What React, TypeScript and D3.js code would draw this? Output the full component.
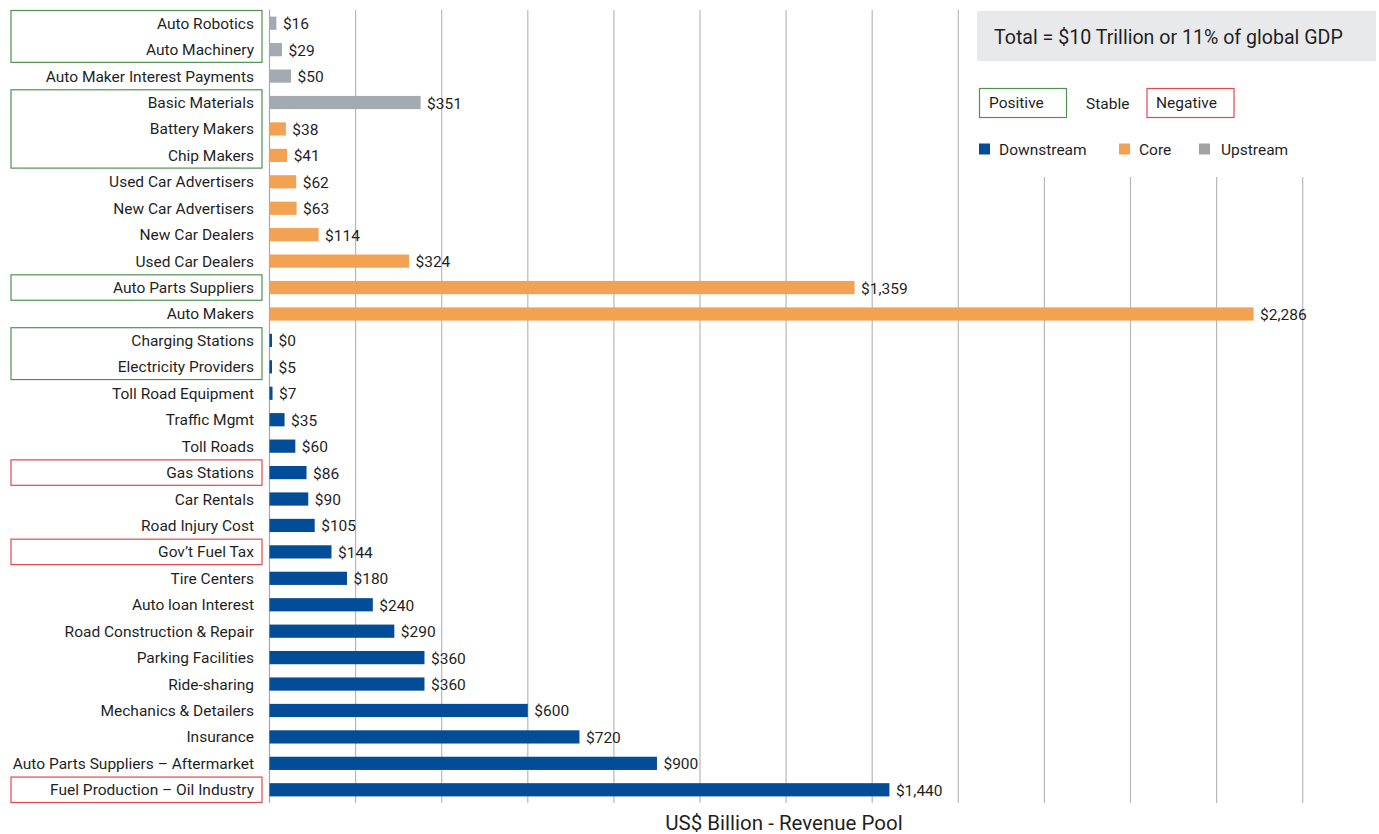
import React from "react";
import * as d3 from "d3";

const categories: string[] = [
  "Auto Robotics",
  "Auto Machinery",
  "Auto Maker Interest Payments",
  "Basic Materials",
  "Battery Makers",
  "Chip Makers",
  "Used Car Advertisers",
  "New Car Advertisers",
  "New Car Dealers",
  "Used Car Dealers",
  "Auto Parts Suppliers",
  "Auto Makers",
  "Charging Stations",
  "Electricity Providers",
  "Toll Road Equipment",
  "Traffic Mgmt",
  "Toll Roads",
  "Gas Stations",
  "Car Rentals",
  "Road Injury Cost",
  "Gov’t Fuel Tax",
  "Tire Centers",
  "Auto loan Interest",
  "Road Construction & Repair",
  "Parking Facilities",
  "Ride-sharing",
  "Mechanics & Detailers",
  "Insurance",
  "Auto Parts Suppliers – Aftermarket",
  "Fuel Production – Oil Industry",
];

const values: number[] = [
  16, 29, 50, 351, 38, 41, 62, 63, 114, 324, 1359, 2286, 0, 5, 7, 35, 60, 86, 90,
  105, 144, 180, 240, 290, 360, 360, 600, 720, 900, 1440,
];

const segments: string[] = [
  "Upstream", "Upstream", "Upstream", "Upstream",
  "Core", "Core", "Core", "Core", "Core", "Core", "Core", "Core",
  "Downstream", "Downstream", "Downstream", "Downstream", "Downstream", "Downstream",
  "Downstream", "Downstream", "Downstream", "Downstream", "Downstream", "Downstream",
  "Downstream", "Downstream", "Downstream", "Downstream", "Downstream", "Downstream",
];

// outlook groups: [first category, last category, kind]
const outlookGroups: [string, string, string][] = [
  ["Auto Robotics", "Auto Machinery", "Positive"],
  ["Basic Materials", "Chip Makers", "Positive"],
  ["Auto Parts Suppliers", "Auto Parts Suppliers", "Positive"],
  ["Charging Stations", "Electricity Providers", "Positive"],
  ["Gas Stations", "Gas Stations", "Negative"],
  ["Gov’t Fuel Tax", "Gov’t Fuel Tax", "Negative"],
  ["Fuel Production – Oil Industry", "Fuel Production – Oil Industry", "Negative"],
];

const xTicks: number[] = [0, 200, 400, 600, 800, 1000, 1200, 1400, 1600, 1800, 2000, 2200, 2400];

const segmentColor: Record<string, string> = {
  Downstream: "#034c97",
  Core: "#f3a153",
  Upstream: "#a3aab2",
};
const legendSquare: Record<string, string> = {
  Downstream: "#034c97",
  Core: "#f3a153",
  Upstream: "#a3a3a3",
};
const outlookColor: Record<string, string> = {
  Positive: "#4f9350",
  Negative: "#e4474d",
};

const FONT = "Roboto, 'Liberation Sans', Arial, sans-serif";
const TXT = "#1f1f1f";
const FS = 15.5;

export default function App() {
  const W = 1379;
  const H = 834;
  const x = d3.scaleLinear().domain([0, 2400]).range([269.5, 1302.7]);
  const y = d3
    .scaleBand<string>()
    .domain(categories)
    .range([10, 803])
    .paddingInner(0.5)
    .paddingOuter(0.25);
  const step = y.step();
  const bw = y.bandwidth();
  const rowTop = (c: string) => (y(c) as number) - (step - bw) / 2;
  const fmt = d3.format(",");

  const legendSegs = ["Downstream", "Core", "Upstream"];
  const legendSegX = [979, 1119, 1199];
  const legendSegTextX = [999, 1139, 1221];

  return (
    <svg
      width={W}
      height={H}
      style={{ position: "absolute", left: 0, top: 0, background: "#fff" }}
      fontFamily={FONT}
    >
      {/* gridlines */}
      {xTicks.map((t) => (
        <line
          key={t}
          x1={x(t)}
          x2={x(t)}
          y1={10}
          y2={803}
          stroke={t === 0 ? "#a8a8a8" : "#b8b8b8"}
          strokeWidth={1.2}
        />
      ))}

      {/* outlook boxes */}
      {outlookGroups.map(([a, b, k], i) => {
        const top = rowTop(a) + 0.5;
        const bottom = rowTop(b) + step - 0.5;
        return (
          <rect
            key={i}
            x={11}
            y={top}
            width={251}
            height={bottom - top}
            fill="none"
            stroke={outlookColor[k]}
            strokeWidth={1.2}
          />
        );
      })}

      {/* category labels */}
      {categories.map((c) => (
        <text
          key={c}
          x={254}
          y={(y(c) as number) + bw / 2 + 5.5}
          textAnchor="end"
          fontSize={FS}
          fill={TXT}
        >
          {c}
        </text>
      ))}

      {/* bars */}
      {categories.map((c, i) => {
        const w = Math.max(x(values[i]) - x(0), 2.5);
        return (
          <rect
            key={c}
            x={x(0)}
            y={y(c)}
            width={w}
            height={bw}
            fill={segmentColor[segments[i]]}
          />
        );
      })}

      {/* value labels */}
      {categories.map((c, i) => {
        const end = x(0) + Math.max(x(values[i]) - x(0), 2.5);
        return (
          <text
            key={c}
            x={end + 6.5}
            y={(y(c) as number) + bw / 2 + 6}
            fontSize={FS}
            fill={TXT}
          >
            {"$" + fmt(values[i])}
          </text>
        );
      })}

      {/* legend area */}
      <rect x={961} y={0} width={418} height={177} fill="#fff" />
      <rect x={977} y={11} width={399} height={50} fill="#e8e9eb" />
      <text x={994} y={44} fontSize={19.6} fill={TXT}>
        Total = $10 Trillion or 11% of global GDP
      </text>

      <rect x={979.5} y={88.5} width={87} height={29} fill="none" stroke={outlookColor.Positive} strokeWidth={1.2} />
      <text x={989} y={108} fontSize={FS} fill={TXT}>Positive</text>
      <text x={1086} y={109} fontSize={FS} fill={TXT}>Stable</text>
      <rect x={1147} y={88.5} width={87} height={29} fill="none" stroke={outlookColor.Negative} strokeWidth={1.2} />
      <text x={1156} y={108} fontSize={FS} fill={TXT}>Negative</text>

      {legendSegs.map((s, i) => (
        <g key={s}>
          <rect x={legendSegX[i]} y={143.5} width={11} height={11} fill={legendSquare[s]} />
          <text x={legendSegTextX[i]} y={155} fontSize={FS} fill={TXT}>
            {s}
          </text>
        </g>
      ))}

      {/* axis title */}
      <text x={784} y={829.5} textAnchor="middle" fontSize={20.5} fill={TXT}>
        US$ Billion - Revenue Pool
      </text>
    </svg>
  );
}
